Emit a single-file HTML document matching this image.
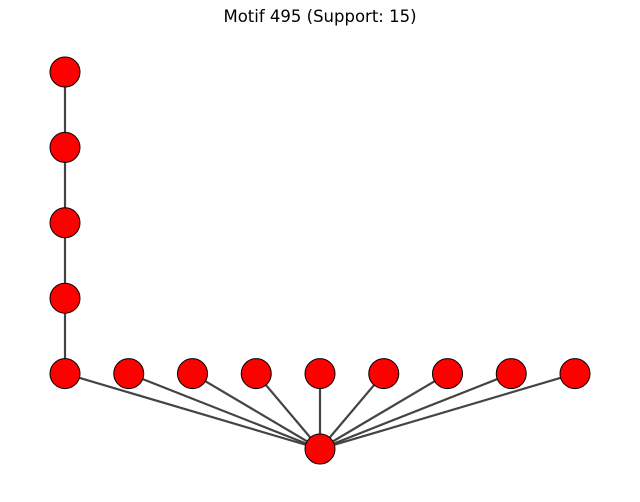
<!DOCTYPE html>
<html><head><meta charset="utf-8"><style>
html,body{margin:0;padding:0;background:#fff;}
svg{display:block;}
</style></head><body>
<svg id="chart" width="640" height="502" viewBox="0 0 640 502">
<text x="320" y="22" text-anchor="middle" font-family="'DejaVu Sans','Liberation Sans',sans-serif" font-size="16.5" fill="#000">Motif 495 (Support: 15)</text>
<g id="edges"></g>
<g id="nodes"></g>
</svg>
<script>
const nodeCols = [0,0,0,0,0,1,2,3,4,5,6,7,8,4];
const nodeRows = [0,1,2,3,4,4,4,4,4,4,4,4,4,5];
const edgeFrom = [0,1,2,3,4,5,6,7,8,9,10,11,12];
const edgeTo   = [1,2,3,4,13,13,13,13,13,13,13,13,13];
const NS='http://www.w3.org/2000/svg';
function xScale(c){return 65 + c*63.75;}
function yScale(r){return 72 + r*75.4;}
const eg=document.getElementById('edges'), ng=document.getElementById('nodes');
for(let i=0;i<edgeFrom.length;i++){
  const a=edgeFrom[i], b=edgeTo[i];
  const l=document.createElementNS(NS,'line');
  l.setAttribute('x1',xScale(nodeCols[a]));l.setAttribute('y1',yScale(nodeRows[a]));
  l.setAttribute('x2',xScale(nodeCols[b]));l.setAttribute('y2',yScale(nodeRows[b]));
  l.setAttribute('stroke','#444');l.setAttribute('stroke-width','2.2');
  
  
  eg.appendChild(l);
}
for(let i=0;i<nodeCols.length;i++){
  const c=document.createElementNS(NS,'circle');
  c.setAttribute('cx',xScale(nodeCols[i]));c.setAttribute('cy',yScale(nodeRows[i]));
  c.setAttribute('r','15');c.setAttribute('fill','#ff0000');c.setAttribute('stroke','#000');c.setAttribute('stroke-width','1');
  
  
  ng.appendChild(c);
}
</script>
</body></html>
